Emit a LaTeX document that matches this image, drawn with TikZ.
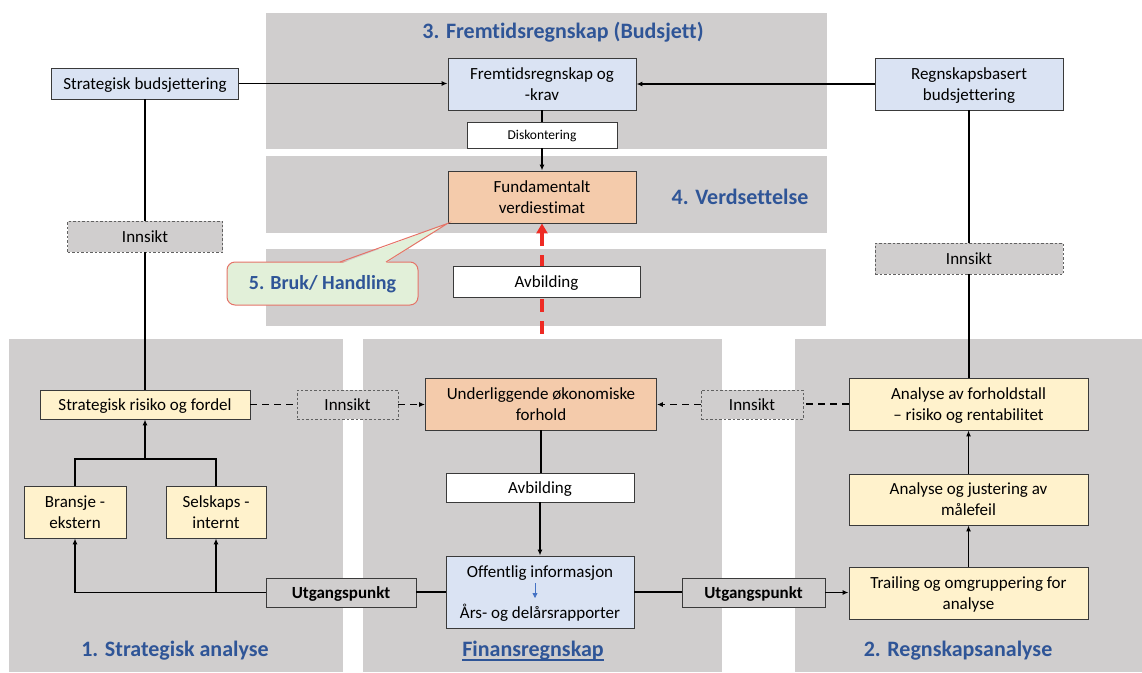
\documentclass[tikz,border=0pt]{standalone}
\usepackage{fontspec}
\setmainfont{Carlito}[Ligatures=NoCommon]
\usetikzlibrary{arrows.meta,calc}

\definecolor{panel}{HTML}{D0CECE}
\definecolor{boxline}{HTML}{3A3A3A}
\definecolor{lightblue}{HTML}{DAE3F3}
\definecolor{lightyellow}{HTML}{FFF2CC}
\definecolor{peach}{HTML}{F4CBAB}
\definecolor{lightgreen}{HTML}{E2F0D9}
\definecolor{calloutline}{HTML}{E57368}
\definecolor{titleblue}{HTML}{2F5597}
\definecolor{redarrow}{HTML}{EE2B24}
\definecolor{smallblue}{HTML}{4472C4}

\pgfdeclarelayer{toppanels}
\pgfdeclarelayer{redline}
\pgfdeclarelayer{lowpanels}
\pgfsetlayers{toppanels,redline,lowpanels,main}

\tikzset{
  box/.style={draw=boxline, line width=0.9pt, align=center, inner sep=2pt,
    font=\fontsize{17}{21}\selectfont},
  oneline/.style={text height=11pt, text depth=0pt},
  nodepth/.style={text depth=0pt},
  bluebox/.style={box, fill=lightblue},
  yellowbox/.style={box, fill=lightyellow},
  peachbox/.style={box, fill=peach},
  whitebox/.style={box, fill=white},
  startbox/.style={box, oneline, fill=panel, font=\fontsize{17}{21}\selectfont\bfseries},
  insightbox/.style={box, oneline, fill=panel, draw=boxline!80, line width=0.7pt,
    dash pattern=on 2.5pt off 2pt},
  title/.style={text=titleblue, font=\fontsize{22}{26}\selectfont\bfseries},
  conn/.style={draw=black, line width=1.5pt},
  arr/.style={conn, -{Latex[length=6pt,width=5pt]}},
  dconn/.style={conn, dash pattern=on 7pt off 5pt},
  darr/.style={dconn, -{Latex[length=6pt,width=5pt]}},
  panelfill/.style={fill=panel, draw=none},
}

\begin{document}
\begin{tikzpicture}[x=1pt,y=-1pt]
\useasboundingbox (0,0) rectangle (1142,672);

% ---- nodes: budgeting level ----
\node[bluebox, oneline, minimum width=187, minimum height=31] (sb) at (145,83.5) {Strategisk budsjettering};
\node[bluebox, minimum width=188, minimum height=52] (fk) at (542,84) {Fremtidsregnskap og\\-krav};
\node[bluebox, nodepth, minimum width=188, minimum height=52] (rb) at (969,84) {Regnskapsbasert\\budsjettering};
\node[whitebox, minimum width=150, minimum height=26, font=\fontsize{13.5}{16}\selectfont,
      text height=8.7pt, text depth=0pt] (disk) at (542,135) {Diskontering};
\node[peachbox, minimum width=188, minimum height=52] (fund) at (542,197) {Fundamentalt\\verdiestimat};
\node[insightbox, minimum width=155, minimum height=31] (innL) at (145,236.5) {Innsikt};
\node[insightbox, minimum width=188, minimum height=31] (innR) at (969,258.5) {Innsikt};
\node[whitebox, oneline, minimum width=187, minimum height=31] (avbT) at (546.5,281.5) {Avbilding};

% ---- callout ----
\node[draw=calloutline, fill=lightgreen, line width=1pt, rounded corners=8pt,
      minimum width=191, minimum height=43, text=titleblue, text height=12.9pt, text depth=0pt,
      font=\fontsize{20}{24}\selectfont\bfseries] (bruk) at (322.5,283.5) {5. Bruk/ Handling};
\fill[lightgreen] (341,263.6) -- (fund.south west) -- (385,263.6) -- cycle;
\draw[calloutline, line width=1pt, line join=miter] (340,262) -- (fund.south west) -- (386,262);

% ---- nodes: analysis level ----
\node[yellowbox, oneline, minimum width=210, minimum height=29] (srf) at (145,404.5) {Strategisk risiko og fordel};
\node[insightbox, minimum width=101, minimum height=29] (innM1) at (347.5,404.5) {Innsikt};
\node[peachbox, minimum width=231, minimum height=52] (under) at (541,404) {Underliggende økonomiske\\forhold};
\node[insightbox, minimum width=102, minimum height=29] (innM2) at (752,404.5) {Innsikt};
\node[yellowbox, nodepth, minimum width=239, minimum height=52] (afr) at (968.5,404) {Analyse av forholdstall\\– risiko og rentabilitet};
\node[whitebox, oneline, minimum width=188, minimum height=29] (avbM) at (540,487.5) {Avbilding};
\node[yellowbox, minimum width=239, minimum height=51] (ajm) at (968.5,499.5) {Analyse og justering av\\målefeil};
\node[yellowbox, minimum width=102, minimum height=52] (bransje) at (75,512) {Bransje -\\ekstern};
\node[yellowbox, minimum width=100, minimum height=52] (selskaps) at (216,512) {Selskaps -\\internt};
\node[bluebox, nodepth, minimum width=188, minimum height=72] (off) at (540,592) {Offentlig informasjon\\[20pt]Års- og delårsrapporter};
\node[startbox, minimum width=150, minimum height=29] (utgL) at (341,592.5) {Utgangspunkt};
\node[startbox, minimum width=143, minimum height=29] (utgR) at (753.5,592.5) {Utgangspunkt};
\node[yellowbox, nodepth, minimum width=239, minimum height=52] (trail) at (968.5,593) {Trailing og omgruppering for\\analyse};

% ---- section titles ----
\node[title] (t3) at (563,32) {3. Fremtidsregnskap (Budsjett)};
\node[title] (t4) at (740,197) {4. Verdsettelse};
\node[title] (t1) at (175,651) {1. Strategisk analyse};
\node[title, inner sep=0pt] (tf) at (533,651) {Finansregnskap};
\draw[titleblue, line width=1.4pt] ($(tf.base west)+(0,3)$) -- ($(tf.base east)+(0,3)$);
\node[title] (t2) at (958,651) {2. Regnskapsanalyse};

% ---- background panels ----
\begin{pgfonlayer}{toppanels}
  \fill[panelfill] (266,13) rectangle (827,149);
  \fill[panelfill] (266,156) rectangle (827,233);
  \fill[panelfill] (266,249) rectangle (826,326);
\end{pgfonlayer}
\begin{pgfonlayer}{lowpanels}
  \fill[panelfill] (9,339) rectangle (343,672);
  \fill[panelfill] (363,339) rectangle (722,672);
  \fill[panelfill] (795,339) rectangle (1142,672);
\end{pgfonlayer}

% ---- mapping from economics to value (red, dashed) ----
\begin{pgfonlayer}{redline}
  \draw[redarrow, line width=3.5pt, dash pattern=on 13pt off 9pt,
        -{Triangle[length=10pt,width=11pt]}] (fund.south |- under.north) -- (fund.south);
\end{pgfonlayer}

% ---- connectors: budgeting ----
\draw[arr] (sb.east) -- (sb.east -| fk.west);
\draw[arr] (rb.west) -- (fk.east);
\draw[conn] (fk.south) -- (disk.north);
\draw[arr] (disk.south) -- (fund.north);
\draw[conn] (sb.south) -- (innL.north);
\draw[conn] (innL.south) -- (srf.north);
\draw[conn] (rb.south) -- (innR.north);
\draw[conn] (innR.south) -- (innR.south |- afr.north);

% ---- connectors: strategic analysis ----
\coordinate (jn) at (srf.south |- 0,459);
\draw[conn] (bransje.north) |- (jn) -| (selskaps.north);
\draw[arr] (jn) -- (srf.south);
\draw[arr] (utgL.west) -| (bransje.south);
\draw[arr] (utgL.west -| selskaps.south) -- (selskaps.south);
\draw[conn] (off.west) -- (off.west -| utgL.east);

% ---- connectors: insight (dashed) ----
\draw[dconn] (srf.east) -- (srf.east -| innM1.west);
\draw[darr] (innM1.east) -- (innM1.east -| under.west);
\draw[dconn] (afr.west) -- (afr.west -| innM2.east);
\draw[darr] (innM2.west) -- (innM2.west -| under.east);

% ---- connectors: financial statements ----
\draw[conn] (under.south) -- (under.south |- avbM.north);
\draw[arr] (avbM.south) -- (avbM.south |- off.north);
\draw[smallblue, line width=0.8pt, -{Triangle[length=5pt,width=5pt]}]
  ($(off.center)+(-5,-9)$) -- ($(off.center)+(-5,6)$);

% ---- connectors: accounting analysis ----
\draw[conn] (off.east) -- (off.east -| utgR.west);
\draw[arr] (utgR.east) -- (utgR.east -| trail.west);
\draw[arr] (trail.north) -- (ajm.south);
\draw[arr] (ajm.north) -- (afr.south);
\end{tikzpicture}
\end{document}
